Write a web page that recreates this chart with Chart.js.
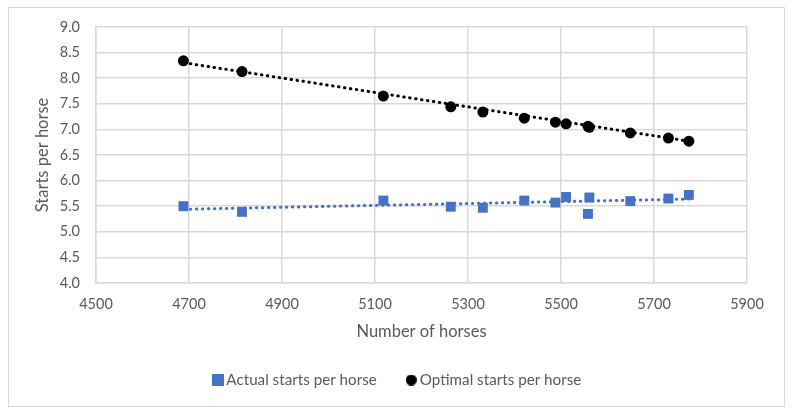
<!DOCTYPE html>
<html>
<head>
<meta charset="utf-8">
<script src="https://cdn.jsdelivr.net/npm/chart.js@4"></script>
<style>
  html, body { margin: 0; padding: 0; background: #fff; }
  canvas { display: block; }
</style>
</head>
<body>
<canvas id="chart" width="792" height="415"></canvas>
<script>
// values
const horses = [4688, 4814, 5118, 5263, 5332, 5421, 5488, 5511, 5558, 5561, 5649, 5731, 5775];
const actualStarts = [5.50, 5.39, 5.61, 5.49, 5.47, 5.61, 5.57, 5.68, 5.35, 5.67, 5.60, 5.65, 5.72];
const optimalStarts = [8.34, 8.13, 7.65, 7.44, 7.34, 7.22, 7.14, 7.11, 7.06, 7.04, 6.93, 6.83, 6.77];

// dotted trend lines, end points
const trendX = [4690, 5775];
const actualTrend = [5.44, 5.64];
const optimalTrend = [8.30, 6.77];

const BLUE = '#4472C4';
const GREY_TEXT = '#595959';
const GRID = '#d9d9d9';
const FONT = 'Lato';

const toPoints = (xs, ys) => xs.map((x, i) => ({ x: x, y: ys[i] }));

// little marker images for the legend
function marker(kind, size, color) {
    const c = document.createElement('canvas');
    c.width = size; c.height = size;
    const g = c.getContext('2d');
    g.fillStyle = color;
    if (kind === 'circle') {
        g.beginPath();
        g.arc(size / 2, size / 2, size / 2, 0, Math.PI * 2);
        g.fill();
    } else {
        g.fillRect(0, 0, size, size);
    }
    return c;
}
const legendMarks = [marker('rect', 12, BLUE), marker('circle', 11, '#000')];

const frame = {
    id: 'frame',
    beforeDraw(chart) {
        const ctx = chart.ctx;
        ctx.save();
        ctx.fillStyle = '#fff';
        ctx.fillRect(0, 0, chart.width, chart.height);
        ctx.strokeStyle = GRID;
        ctx.lineWidth = 1;
        ctx.strokeRect(8.5, 7.5, 776, 399);
        ctx.restore();
    }
};

const ctx = document.getElementById('chart').getContext('2d');
const chart = new Chart(ctx, {
    type: 'scatter',
    data: {
        datasets: [{
            label: 'Actual starts per horse',
            data: toPoints(horses, actualStarts),
            pointStyle: 'rect',
            pointRadius: 7,
            pointHoverRadius: 7,
            backgroundColor: BLUE,
            borderColor: BLUE,
            borderWidth: 0
        }, {
            label: 'Optimal starts per horse',
            data: toPoints(horses, optimalStarts),
            pointStyle: 'circle',
            pointRadius: 5.5,
            pointHoverRadius: 5.5,
            backgroundColor: '#000',
            borderColor: '#000',
            borderWidth: 0
        }, {
            label: 'trend actual',
            type: 'line',
            data: toPoints(trendX, actualTrend),
            borderColor: BLUE,
            borderWidth: 3,
            borderDash: [0.5, 5.5],
            borderCapStyle: 'round',
            pointRadius: 0,
            fill: false
        }, {
            label: 'trend optimal',
            type: 'line',
            data: toPoints(trendX, optimalTrend),
            borderColor: '#000',
            borderWidth: 3,
            borderDash: [0.5, 5.5],
            borderCapStyle: 'round',
            pointRadius: 0,
            fill: false
        }]
    },
    options: {
        responsive: false,
        animation: false,
        layout: { padding: { left: 6, right: 0, top: 27, bottom: 17.4 } },
        scales: {
            x: {
                type: 'linear',
                min: 4500,
                max: 5900,
                grid: { color: GRID, lineWidth: 1.5, drawTicks: false },
                border: { color: GRID, width: 1.5 },
                ticks: {
                    stepSize: 200,
                    padding: 13,
                    color: GREY_TEXT,
                    font: { family: FONT, size: 14.5 },
                    callback: v => String(v)
                },
                title: {
                    display: true,
                    text: 'Number of horses',
                    color: GREY_TEXT,
                    font: { family: FONT, size: 16.5 },
                    padding: { top: 0, bottom: -3 }
                },
                afterFit: s => { s.height = 55.9; }
            },
            y: {
                min: 4,
                max: 9,
                grid: { color: GRID, lineWidth: 1.5, drawTicks: false },
                border: { color: GRID, width: 1.5 },
                ticks: {
                    stepSize: 0.5,
                    padding: 16,
                    color: GREY_TEXT,
                    font: { family: FONT, size: 14.5 },
                    callback: v => v.toFixed(1)
                },
                title: {
                    display: true,
                    text: 'Starts per horse',
                    color: GREY_TEXT,
                    font: { family: FONT, size: 16.5 },
                    padding: { top: 27.1, bottom: 0 }
                },
                afterFit: s => { s.width = 90; }
            },
            // empty right-hand axis, only keeps room on the right
            yRight: {
                position: 'right',
                display: true,
                grid: { display: false, drawTicks: false },
                border: { display: false },
                ticks: { display: false },
                afterFit: s => { s.width = 45; }
            }
        },
        plugins: {
            tooltip: { enabled: false },
            legend: {
                position: 'bottom',
                labels: {
                    usePointStyle: true,
                    boxWidth: 2,
                    boxHeight: 15,
                    padding: 33.5,
                    color: GREY_TEXT,
                    font: { family: FONT, size: 15.2 },
                    generateLabels: function (chart) {
                        const items = Chart.defaults.plugins.legend.labels.generateLabels(chart);
                        return items.filter(it => it.datasetIndex < 2).map(it => {
                            it.pointStyle = legendMarks[it.datasetIndex];
                            return it;
                        });
                    }
                }
            }
        }
    },
    plugins: [frame]
});
</script>
</body>
</html>
